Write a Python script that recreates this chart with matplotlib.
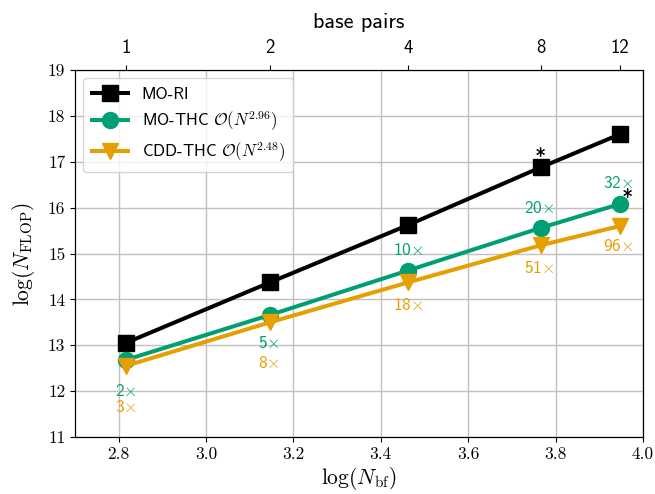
import matplotlib
matplotlib.use("Agg")
import matplotlib.pyplot as plt

plt.rcParams['mathtext.fontset'] = 'cm'
plt.rcParams['axes.unicode_minus'] = False

# log10 of the number of basis functions, one per system size
log_nbf = [2.816, 3.146, 3.462, 3.766, 3.947]
base_pairs = ['1', '2', '4', '8', '12']

# log10 of the FLOP counts
mo_ri = [13.05, 14.37, 15.62, 16.88, 17.60]
mo_thc = [12.68, 13.66, 14.63, 15.56, 16.08]
cdd_thc = [12.55, 13.50, 14.37, 15.18, 15.60]

# speedups over MO-RI
speedup_mo = ['2', '5', '10', '20', '32']
speedup_cdd = ['3', '8', '18', '51', '96']

green = '#009E73'
orange = '#E69F00'
sans = ['cmss10', 'DejaVu Sans']
serif = ['cmr10', 'DejaVu Serif']

fig = plt.figure(figsize=(6.55, 4.94), dpi=100)
ax = fig.add_axes([0.1145, 0.1154, 0.867, 0.7426])

ax.plot(log_nbf, mo_ri, '-s', color='black', lw=2.9, ms=11, label='MO-RI')
ax.plot(log_nbf, mo_thc, '-o', color=green, lw=2.9, ms=11.5,
        label=r'MO-THC $\mathcal{O}(N^{2.96})$')
ax.plot(log_nbf, cdd_thc, '-v', color=orange, lw=2.9, ms=11.5,
        label=r'CDD-THC $\mathcal{O}(N^{2.48})$')

# speedup labels next to the THC points (offsets in points)
mo_off = [(0, -22), (-1, -20), (0, 15), (-1, 14.5), (-1, 15)]
cdd_off = [(0, -29.5), (-1, -29), (0, -16), (-1, -16.5), (-1, -14.5)]
for i in range(len(log_nbf)):
    ax.annotate(speedup_mo[i] + r'$\times$', (log_nbf[i], mo_thc[i]),
                xytext=mo_off[i], textcoords='offset points',
                ha='center', va='center', color=green, fontsize=12.5,
                family=sans)
    ax.annotate(speedup_cdd[i] + r'$\times$', (log_nbf[i], cdd_thc[i]),
                xytext=cdd_off[i], textcoords='offset points',
                ha='center', va='center', color=orange, fontsize=12.5,
                family=sans)

# asterisks marking the largest MO-RI / MO-THC runs
ax.annotate('*', (log_nbf[3], mo_ri[3]), xytext=(0, 6.5),
            textcoords='offset points', ha='center', va='center',
            fontsize=16, family=sans)
ax.annotate('*', (log_nbf[4], mo_thc[4]), xytext=(5.5, 3),
            textcoords='offset points', ha='center', va='center',
            fontsize=16, family=sans)

ax.set_xlim(2.7, 4.0)
ax.set_ylim(11, 19)
ax.set_xticks([2.8, 3.0, 3.2, 3.4, 3.6, 3.8, 4.0])
ax.set_xticklabels(['2.8', '3.0', '3.2', '3.4', '3.6', '3.8', '4.0'])
ax.set_yticks(range(11, 20))
ax.grid(True, color='#c0c0c0', lw=1)
ax.tick_params(labelsize=12.5)
for lab in ax.get_xticklabels() + ax.get_yticklabels():
    lab.set_family(serif)
ax.set_xlabel(r'$\log(N_{\rm bf})$', fontsize=15.5, labelpad=2)
ax.set_ylabel(r'$\log(N_{\rm FLOP})$', fontsize=15.5, labelpad=8)

ax.legend(loc='upper left', prop={'family': sans, 'size': 12},
          handlelength=2.2, borderpad=0.5, labelspacing=0.45)

top = ax.twiny()
top.set_xlim(ax.get_xlim())
top.set_xticks(log_nbf)
top.set_xticklabels(base_pairs, family=sans, fontsize=13.5)
top.tick_params(pad=6)
top.set_xlabel('base pairs', family=sans, fontsize=16, labelpad=8)

fig.savefig('out.png', dpi=100)
